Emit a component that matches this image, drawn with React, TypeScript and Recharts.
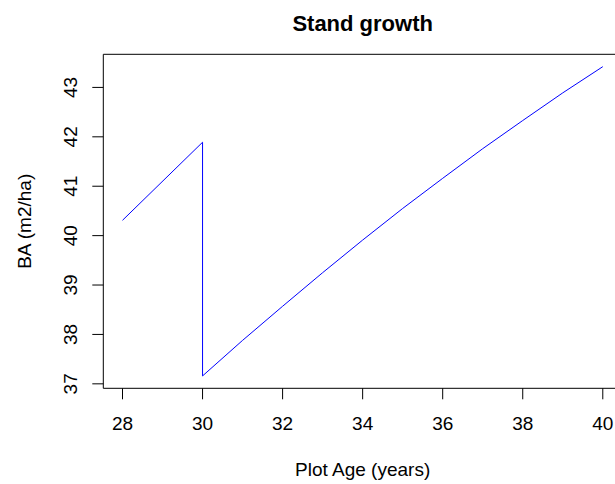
import React from 'react';
import { LineChart, Line, XAxis, YAxis, Label } from 'recharts';

// ---- data ----
const plotAge = [28, 30, 30, 31, 32, 33, 34, 35, 36, 37, 38, 39, 40];
const basalArea = [40.31, 41.89, 37.16, 37.88, 38.57, 39.25, 39.91, 40.55, 41.16, 41.76, 42.33, 42.89, 43.42];
const xTicks = [28, 30, 32, 34, 36, 38, 40];
const yTicks = [37, 38, 39, 40, 41, 42, 43];
const chartTitle = 'Stand growth';
const xTitle = 'Plot Age (years)';
const yTitle = 'BA (m2/ha)';

const FONT = '"Liberation Sans", Arial, Helvetica, sans-serif';
const BASE = 19;

const data = plotAge.map((age, i) => ({ age, ba: basalArea[i] }));

// R-style 4% padded ranges
function padded(values: number[]): [number, number] {
  const lo = Math.min(...values);
  const hi = Math.max(...values);
  const p = (hi - lo) * 0.04;
  return [lo - p, hi + p];
}
const xDomain = padded(plotAge);
const yDomain = padded(basalArea);

const XTick = (props: any) => {
  const { x, y, payload } = props;
  return (
    <text x={x} y={y} dy={31} textAnchor="middle" fill="#000" fontSize={BASE} fontFamily={FONT}>
      {payload.value}
    </text>
  );
};

const YTick = (props: any) => {
  const { x, y, payload } = props;
  const bx = x - 15;
  return (
    <text
      x={bx}
      y={y}
      transform={`rotate(-90, ${bx}, ${y})`}
      textAnchor="middle"
      fill="#000"
      fontSize={BASE}
      fontFamily={FONT}
    >
      {payload.value}
    </text>
  );
};

const XTitle = (props: any) => {
  const vb = props.viewBox;
  const cx = vb.x + vb.width / 2;
  const cy = vb.y + 87.5;
  return (
    <text x={cx} y={cy} textAnchor="middle" fill="#000" fontSize={BASE} fontFamily={FONT}>
      {xTitle}
    </text>
  );
};

const YTitle = (props: any) => {
  const vb = props.viewBox;
  const cx = vb.x + vb.width - 72;
  const cy = vb.y + vb.height / 2;
  return (
    <text
      x={cx}
      y={cy}
      transform={`rotate(-90, ${cx}, ${cy})`}
      textAnchor="middle"
      fill="#000"
      fontSize={BASE}
      fontFamily={FONT}
    >
      {yTitle}
    </text>
  );
};

const MainTitle = (props: any) => {
  const vb = props.viewBox;
  const cx = vb.x + vb.width / 2;
  const cy = vb.y + vb.height - 23;
  return (
    <text x={cx} y={cy} textAnchor="middle" fill="#000" fontSize={22} fontWeight="bold" fontFamily={FONT}>
      {chartTitle}
    </text>
  );
};

export default function App() {
  return (
    <div
      style={{
        position: 'absolute',
        left: 0,
        top: 0,
        width: 615,
        height: 484,
        overflow: 'hidden',
        background: '#fff',
        fontFamily: FONT,
      }}
    >
      <LineChart width={640} height={484} data={data} margin={{ top: 0, right: 18, bottom: 0, left: 0 }}>
        <XAxis
          xAxisId="top"
          orientation="top"
          dataKey="age"
          type="number"
          domain={xDomain}
          allowDataOverflow
          height={54.3}
          tick={false}
          tickLine={false}
          axisLine={{ stroke: '#000', strokeWidth: 1 }}
        >
          <Label content={MainTitle} />
        </XAxis>
        <XAxis
          dataKey="age"
          type="number"
          domain={xDomain}
          allowDataOverflow
          ticks={xTicks}
          interval={0}
          height={95.7}
          tickSize={11}
          tickMargin={0}
          tick={XTick}
          tickLine={{ stroke: '#000', strokeWidth: 1 }}
          axisLine={{ stroke: '#000', strokeWidth: 1 }}
        >
          <Label content={XTitle} />
        </XAxis>
        <YAxis
          type="number"
          domain={yDomain}
          allowDataOverflow
          ticks={yTicks}
          interval={0}
          width={103.3}
          tickSize={11}
          tickMargin={0}
          tick={YTick}
          tickLine={{ stroke: '#000', strokeWidth: 1 }}
          axisLine={{ stroke: '#000', strokeWidth: 1 }}
        >
          <Label content={YTitle} />
        </YAxis>
        <Line
          type="linear"
          dataKey="ba"
          stroke="#0000ff"
          strokeWidth={1}
          dot={false}
          activeDot={false}
          isAnimationActive={false}
        />
      </LineChart>
    </div>
  );
}
